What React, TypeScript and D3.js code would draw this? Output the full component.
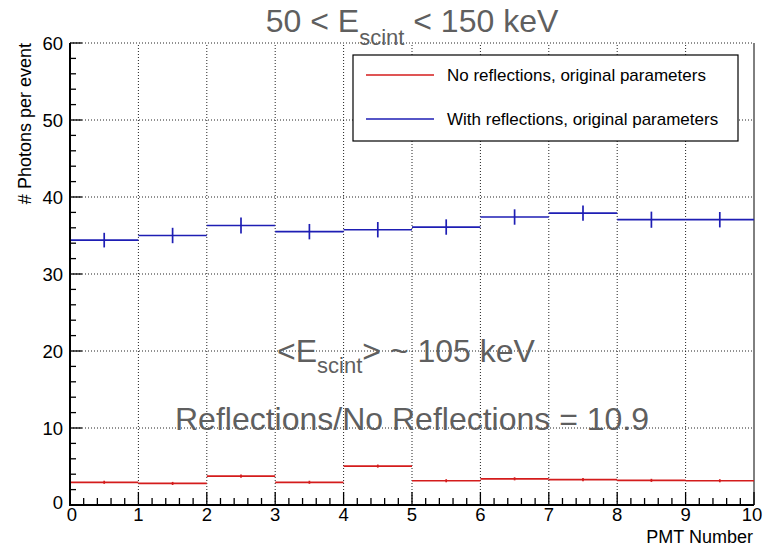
import React from "react";
import * as d3 from "d3";

// Bin lower edges (PMT index) and per-bin photon yields
const pmtBins = [0, 1, 2, 3, 4, 5, 6, 7, 8, 9];
const noReflections = [2.95, 2.8, 3.75, 2.95, 5.05, 3.15, 3.4, 3.3, 3.2, 3.15];
const noReflectionsErr = [0.2, 0.2, 0.2, 0.2, 0.2, 0.2, 0.2, 0.2, 0.2, 0.2];
const withReflections = [34.4, 35.0, 36.3, 35.5, 35.75, 36.1, 37.4, 37.9, 37.05, 37.05];
const withReflectionsErr = [0.95, 1.0, 1.05, 1.0, 1.0, 1.0, 1.0, 1.0, 1.05, 1.0];

const xTicks = [0, 1, 2, 3, 4, 5, 6, 7, 8, 9, 10];
const yTicks = [0, 10, 20, 30, 40, 50, 60];

const legendLabels = [
  "No reflections, original parameters",
  "With reflections, original parameters",
];

const W = 763;
const H = 547;
const FONT = "'Liberation Sans', Arial, Helvetica, sans-serif";
const RED = "#d41c1c";
const BLUE = "#1e1eb4";
const NOTE = "#5f5f5f";

export default function App() {
  const x = d3.scaleLinear().domain([0, 10]).range([70, 754]);
  const y = d3.scaleLinear().domain([0, 60]).range([505, 43]);

  const xMinor = d3.range(0, 10.001, 0.2).filter((v) => Math.abs(v - Math.round(v)) > 1e-6);
  const yMinor = d3.range(0, 60.001, 2).filter((v) => v % 10 !== 0);

  const series = [
    { vals: noReflections, errs: noReflectionsErr, color: RED },
    { vals: withReflections, errs: withReflectionsErr, color: BLUE },
  ];

  const [x0, x1] = x.range();
  const [y0, y1] = y.range();

  return (
    <svg
      width={W}
      height={H}
      style={{ position: "absolute", left: 0, top: 0, background: "#fff" }}
      fontFamily={FONT}
    >
      <rect x={0} y={0} width={W} height={H} fill="#fff" />

      {/* dotted grid */}
      <g stroke="#222" strokeWidth={1} strokeDasharray="1,2">
        {xTicks.slice(1, -1).map((t) => (
          <line key={"gx" + t} x1={x(t)} x2={x(t)} y1={y0} y2={y1} />
        ))}
        {yTicks.slice(1).map((t) => (
          <line key={"gy" + t} x1={x0} x2={x1} y1={y(t)} y2={y(t)} />
        ))}
      </g>

      {/* frame: right edge */}
      <line x1={x1} x2={x1} y1={y1} y2={y0} stroke="#000" strokeWidth={1} />

      {/* histograms with error bars */}
      {series.map((s, si) => (
        <g key={"s" + si} stroke={s.color} strokeWidth={1.7} fill="none">
          {pmtBins.map((b, i) => {
            const xc = x(b + 0.5);
            return (
              <g key={i}>
                <line x1={x(b)} x2={x(b + 1)} y1={y(s.vals[i])} y2={y(s.vals[i])} />
                <line
                  x1={xc}
                  x2={xc}
                  y1={y(s.vals[i] - s.errs[i])}
                  y2={y(s.vals[i] + s.errs[i])}
                />
              </g>
            );
          })}
        </g>
      ))}

      {/* axes */}
      <g stroke="#000">
        <line x1={x0} x2={x0} y1={y0 + 1} y2={y1} strokeWidth={2} />
        <line x1={x0 - 1} x2={x1} y1={y0} y2={y0} strokeWidth={2} />
        {xTicks.map((t) => (
          <line key={"xt" + t} x1={x(t)} x2={x(t)} y1={y0} y2={y0 - 13} strokeWidth={1.3} />
        ))}
        {xMinor.map((t) => (
          <line key={"xm" + t} x1={x(t)} x2={x(t)} y1={y0} y2={y0 - 7} strokeWidth={1.3} />
        ))}
        {yTicks.map((t) => (
          <line key={"yt" + t} x1={x0} x2={x0 + 12} y1={y(t)} y2={y(t)} strokeWidth={1.3} />
        ))}
        {yMinor.map((t) => (
          <line key={"ym" + t} x1={x0} x2={x0 + 6} y1={y(t)} y2={y(t)} strokeWidth={1.3} />
        ))}
      </g>

      {/* tick labels */}
      <g fontSize={18.5} fill="#000">
        {xTicks.map((t) => (
          <text
            key={"xl" + t}
            x={x(t) + (t === 0 ? 2 : t === 10 ? -2 : 0)}
            y={521}
            textAnchor="middle"
          >
            {t}
          </text>
        ))}
        {yTicks.map((t) => (
          <text
            key={"yl" + t}
            x={63}
            y={y(t) + (t === 0 ? -3 : 0)}
            dy="0.36em"
            textAnchor="end"
          >
            {t}
          </text>
        ))}
      </g>

      {/* axis titles */}
      <text x={753} y={543} fontSize={18} textAnchor="end" fill="#000">
        PMT Number
      </text>
      <text
        transform={`translate(31, ${y1}) rotate(-90)`}
        fontSize={18}
        textAnchor="end"
        fill="#000"
      >
        # Photons per event
      </text>

      {/* legend */}
      <g>
        <rect x={353} y={55} width={385} height={86} fill="#fff" stroke="#000" strokeWidth={1.2} />
        {legendLabels.map((lab, i) => {
          const ly = 75 + i * 44;
          return (
            <g key={lab}>
              <line x1={366} x2={434} y1={ly} y2={ly} stroke={series[i].color} strokeWidth={1.4} />
              <text x={447} y={ly} dy="0.35em" fontSize={17} fill="#000">
                {lab}
              </text>
            </g>
          );
        })}
      </g>

      {/* title */}
      <text x={412} y={32} fontSize={32} textAnchor="middle" fill={NOTE}>
        50 &lt; E
        <tspan fontSize={22} dy={13}>scint</tspan>
        <tspan dy={-13}> &lt; 150 keV</tspan>
      </text>

      {/* annotations */}
      <text x={406} y={362} fontSize={32} textAnchor="middle" fill={NOTE}>
        &lt;E
        <tspan fontSize={22} dy={11}>scint</tspan>
        <tspan dy={-11}>&gt; ~ 105 keV</tspan>
      </text>
      <text x={412} y={430} fontSize={32} textAnchor="middle" fill={NOTE}>
        Reflections/No Reflections = 10.9
      </text>
    </svg>
  );
}
